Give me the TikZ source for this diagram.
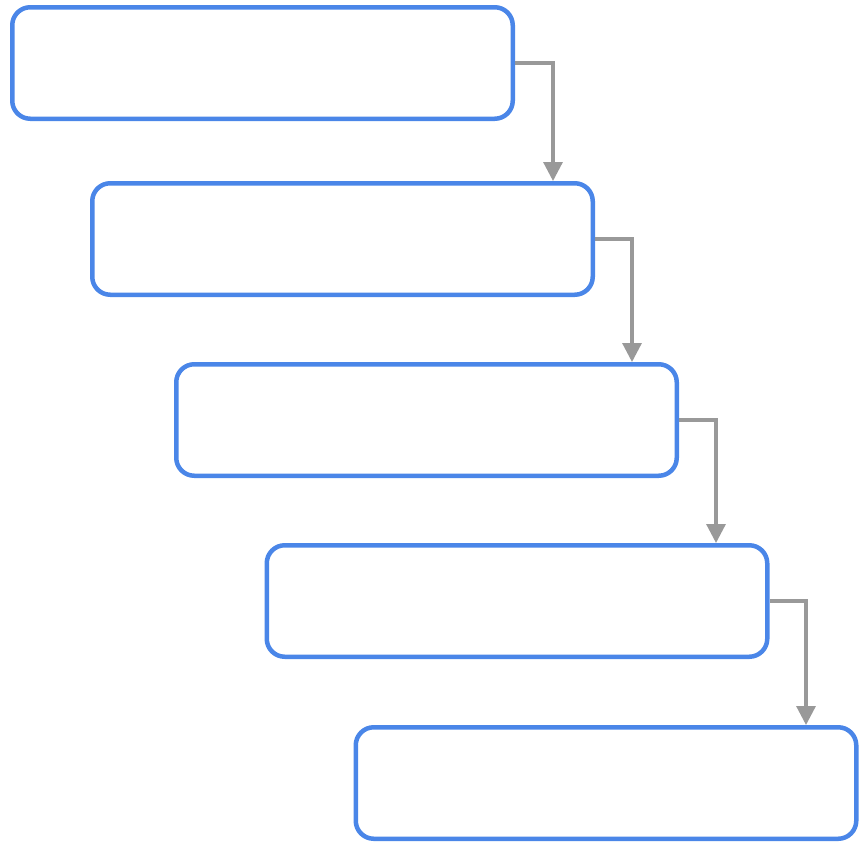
\documentclass[tikz,border=0pt]{standalone}
\usetikzlibrary{arrows.meta}
\definecolor{boxblue}{HTML}{4A86E8}
\definecolor{linegray}{HTML}{999999}
\begin{document}
\begin{tikzpicture}[x=1pt,y=-1pt,
  stepbox/.style={draw=boxblue,line width=4.5pt,rounded corners=18pt,fill=white,
    minimum width=500.5pt,minimum height=111.5pt,inner sep=0pt},
  conn/.style={draw=linegray,line width=3.2pt,-{Triangle[length=19pt,width=19pt]}}]
\useasboundingbox (0,0) rectangle (866,846);
\node[stepbox] (b1) at (262.5,63) {};
\node[stepbox] (b2) at (342.5,239) {};
\node[stepbox] (b3) at (426.5,420) {};
\node[stepbox] (b4) at (517,601) {};
\node[stepbox] (b5) at (606,783) {};
\draw[conn] (b1.east) -| ([xshift=210.5pt]b2.north);
\draw[conn] (b2.east) -| ([xshift=205.5pt]b3.north);
\draw[conn] (b3.east) -| ([xshift=199pt]b4.north);
\draw[conn] (b4.east) -| ([xshift=200pt]b5.north);
\end{tikzpicture}
\end{document}
